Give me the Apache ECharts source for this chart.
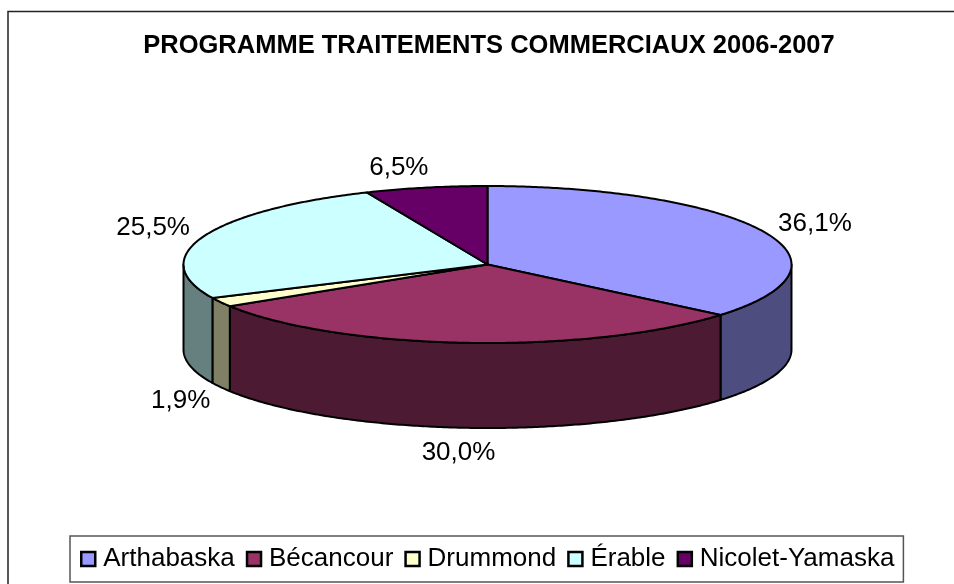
<!DOCTYPE html>
<html>
<head>
<meta charset="utf-8">
<title>Programme traitements commerciaux</title>
<script src="https://cdn.jsdelivr.net/npm/echarts@6/dist/echarts.min.js"></script>
<style>
  html, body { margin: 0; padding: 0; background: #fff; }
  #chart { width: 954px; height: 584px; }
</style>
</head>
<body>
<div id="chart"></div>
<script>
const categories = ['Arthabaska', 'Bécancour', 'Drummond', 'Érable', 'Nicolet-Yamaska']
const shares = [36.1, 30.0, 1.9, 25.5, 6.5]

const topColors = ['#9999ff', '#993366', '#ffffcc', '#ccffff', '#660066']
const sideColors = ['#4d4d80', '#4d1a33', '#808066', '#668080', '#330033']

// ellipse of the disc, in pixels
const cx = 487.5
const cy = 264.5
const rx = 304
const ry = 78.5
const depth = 85
const fontFamily = '"Liberation Sans", Arial, sans-serif'

// label shift from the rim point at the middle of each slice
const labelShift = [[52, -7], [-8, 110], [-40, 99], [-50, -9], [-27, -20]]

const total = shares.reduce((a, b) => a + b, 0)
const rim = (t, dy = 0) => [cx + rx * Math.sin(t), cy - ry * Math.cos(t) + dy]

function arcPoints(from, to, dy = 0) {
  const steps = Math.max(2, Math.ceil(Math.abs(to - from) / 0.01))
  const pts = []
  for (let k = 0; k <= steps; k++) pts.push(rim(from + ((to - from) * k) / steps, dy))
  return pts
}

function sliceRenderer(index) {
  const before = shares.slice(0, index).reduce((a, b) => a + b, 0)
  return function (params, api) {
    const start = (before / total) * Math.PI * 2
    const end = ((before + api.value(0)) / total) * Math.PI * 2
    const children = []
    const line = { stroke: '#000', lineWidth: 2, lineJoin: 'round' }

    // only the part between 3 and 9 o'clock shows its wall
    const wallFrom = Math.max(start, Math.PI / 2)
    const wallTo = Math.min(end, (Math.PI * 3) / 2)
    if (wallTo > wallFrom) {
      children.push({
        type: 'polygon',
        shape: { points: arcPoints(wallFrom, wallTo).concat(arcPoints(wallTo, wallFrom, depth)) },
        style: { fill: sideColors[index], ...line },
      })
    }
    children.push({
      type: 'polygon',
      shape: { points: [[cx, cy]].concat(arcPoints(start, end)) },
      style: { fill: topColors[index], ...line },
    })

    const mid = rim((start + end) / 2)
    children.push({
      type: 'text',
      x: mid[0] + labelShift[index][0],
      y: mid[1] + labelShift[index][1],
      style: {
        text: api.value(0).toFixed(1).replace('.', ',') + '%',
        fill: '#000',
        font: '26px ' + fontFamily,
        align: 'center',
        verticalAlign: 'middle',
      },
    })
    return { type: 'group', children }
  }
}

const chart = echarts.init(document.getElementById('chart'))

chart.setOption({
  animation: false,
  backgroundColor: '#fff',
  title: {
    text: 'PROGRAMME TRAITEMENTS COMMERCIAUX 2006-2007',
    left: 484,
    top: 28,
    textAlign: 'center',
    textStyle: { color: '#000', fontFamily, fontSize: 25.5, fontWeight: 'bold' },
  },
  legend: {
    left: 70,
    top: 536,
    padding: [10, 9, 10, 10],
    itemGap: 11,
    itemWidth: 14,
    itemHeight: 14,
    icon: 'rect',
    borderColor: '#555',
    borderWidth: 1.5,
    data: categories,
    textStyle: { color: '#000', fontFamily, fontSize: 26, padding: [0, 0, 5, 3] },
    itemStyle: { borderColor: '#000', borderWidth: 2.5 },
  },
  graphic: [
    {
      type: 'rect',
      silent: true,
      z: -1,
      shape: { x: 8, y: 11.5, width: 960, height: 600 },
      style: { fill: 'none', stroke: '#222', lineWidth: 1.5 },
    },
  ],
  series: categories.map((name, i) => ({
    name,
    type: 'custom',
    coordinateSystem: 'none',
    itemStyle: { color: topColors[i] },
    renderItem: sliceRenderer(i),
    data: [shares[i]],
  })),
})

window.addEventListener('resize', () => chart.resize())
</script>
</body>
</html>
